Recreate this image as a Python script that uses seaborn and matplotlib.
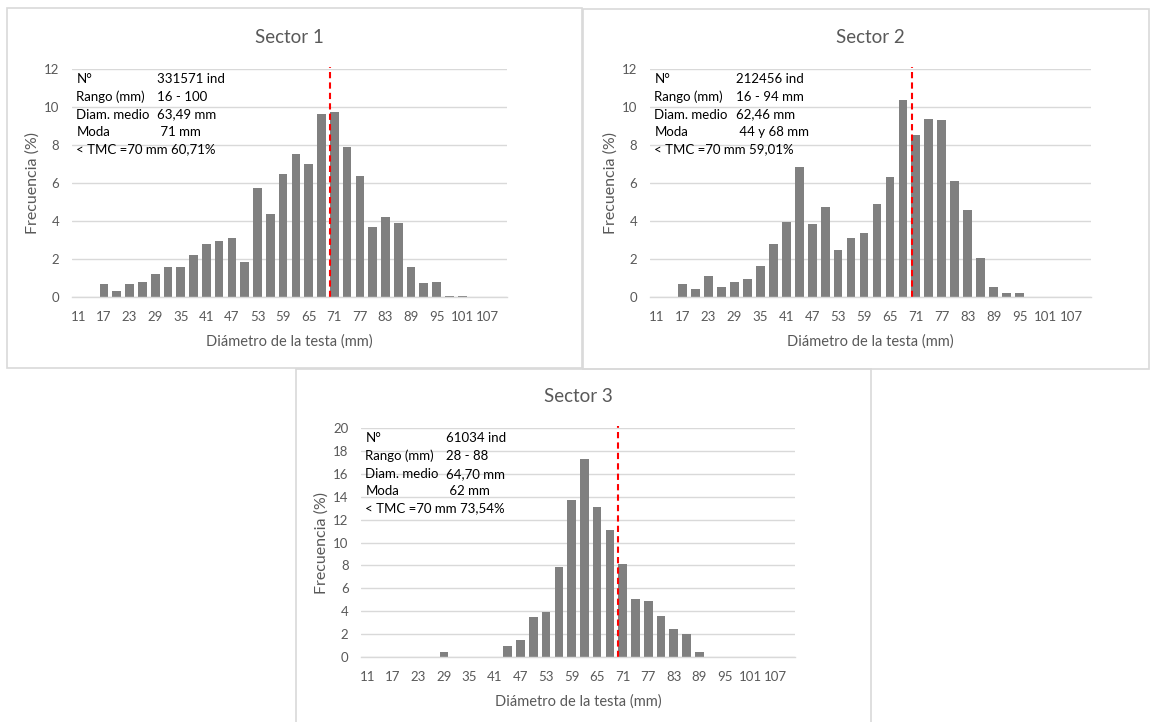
import numpy as np
import pandas as pd
import matplotlib
matplotlib.use("Agg")
import matplotlib.pyplot as plt
from matplotlib.patches import Rectangle
import seaborn as sns

# clases de diametro (mm)
diametros = [11, 14, 17, 20, 23, 26, 29, 32, 35, 38, 41, 44, 47, 50, 53, 56, 59,
             62, 65, 68, 71, 74, 77, 80, 83, 86, 89, 92, 95, 98, 101, 104, 107, 110]

# frecuencias (%)
sector1 = [0, 0, 0.68, 0.31, 0.68, 0.77, 1.2, 1.59, 1.59, 2.2, 2.81, 2.93, 3.09, 1.83,
           5.74, 4.35, 6.47, 7.55, 7.02, 9.65, 9.72, 7.92, 6.37, 3.66, 4.22, 3.9,
           1.6, 0.75, 0.79, 0.05, 0.05, 0, 0, 0]
sector2 = [0, 0, 0.67, 0.42, 1.1, 0.51, 0.79, 0.96, 1.65, 2.8, 3.96, 6.86, 3.82, 4.75,
           2.45, 3.1, 3.38, 4.89, 6.3, 10.38, 8.51, 9.37, 9.33, 6.09, 4.6, 2.05,
           0.53, 0.23, 0.23, 0, 0, 0, 0, 0]
sector3 = [0, 0, 0, 0, 0, 0, 0.44, 0, 0, 0, 0, 0.93, 1.51, 3.46, 3.96, 7.89, 13.74,
           17.32, 13.13, 11.06, 8.09, 5.07, 4.89, 3.58, 2.47, 1.98, 0.44, 0, 0, 0,
           0, 0, 0, 0]

titulos = ["Sector 1", "Sector 2", "Sector 3"]
ymax = [12, 12, 20]
tmc = 70  # talla minima de captura (mm)

info_labels = ["N°", "Rango (mm)", "Diam. medio", "Moda"]
info_s1 = ["331571 ind", "16 - 100", "63,49 mm", " 71 mm", "< TMC =70 mm 60,71%"]
info_s2 = ["212456 ind", "16 - 94 mm", "62,46 mm", " 44 y 68 mm", "< TMC =70 mm 59,01%"]
info_s3 = ["61034 ind", "28 - 88", "64,70 mm", " 62 mm", "< TMC =70 mm 73,54%"]

sns.set_style("white")
plt.rcParams['font.family'] = ['Lato', 'DejaVu Sans']

W, H = 1150, 722
GRAY_TXT = '#595959'
GRID = '#d9d9d9'

fig = plt.figure(figsize=(W / 100, H / 100), dpi=100)


def px_rect(x0, y0, x1, y1):
    return [x0 / W, 1 - y1 / H, (x1 - x0) / W, (y1 - y0) / H]


# marcos de cada grafico
for (x0, y0, x1, y1) in [(7, 8, 582, 368), (583, 9, 1149, 369), (296, 369, 871, 730)]:
    fig.add_artist(Rectangle((x0 / W, 1 - y1 / H), (x1 - x0) / W, (y1 - y0) / H,
                             transform=fig.transFigure, fill=False,
                             edgecolor='#d9d9d9', linewidth=1.2))

rects = [(72, 69, 507, 297), (650, 69, 1091, 297), (361, 428, 795, 657)]
datos = [sector1, sector2, sector3]
infos = [info_s1, info_s2, info_s3]

labels = [str(d) for d in diametros]
for rect, vals, titulo, ym, info in zip(rects, datos, titulos, ymax, infos):
    ax = fig.add_axes(px_rect(*rect))
    df = pd.DataFrame({'Diametro': labels, 'Frecuencia': vals})
    sns.barplot(data=df, x='Diametro', y='Frecuencia', order=labels,
                color='#808080', saturation=1, width=0.68, linewidth=0, ax=ax)

    ax.set_xlim(-0.5, len(labels) - 0.5)
    ax.set_ylim(0, ym)
    ax.set_yticks(np.arange(0, ym + 1, 2))
    pos = np.arange(len(labels))
    ax.set_xticks(pos[::2], labels=labels[::2])
    ax.tick_params(axis='both', length=0, colors=GRAY_TXT, labelsize=9.5)
    ax.tick_params(axis='x', pad=10)
    ax.tick_params(axis='y', pad=9)

    ax.grid(axis='y', color=GRID, linewidth=1)
    ax.set_axisbelow(True)
    for s in ['left', 'right', 'top']:
        ax.spines[s].set_visible(False)
    ax.spines['bottom'].set_color(GRID)
    ax.spines['bottom'].set_linewidth(1)

    ax.set_title(titulo, fontsize=13.5, color=GRAY_TXT, pad=19)
    ax.set_xlabel('Diámetro de la testa (mm)', fontsize=10.5, color=GRAY_TXT, labelpad=8)
    ax.set_ylabel('Frecuencia (%)', fontsize=11.5, color=GRAY_TXT, labelpad=3)

    # linea TMC
    x_tmc = np.interp(tmc, diametros, pos)
    ax.axvline(x_tmc, ymin=0, ymax=1.01, color='#ff0000', linestyle=(0, (3, 2)),
               linewidth=1.5, clip_on=False)

    # cuadro de texto
    ys = [0.956, 0.877, 0.800, 0.724, 0.649]
    for i, lab in enumerate(info_labels):
        ax.text(0.01, ys[i], lab, transform=ax.transAxes, fontsize=9.5,
                color='black', va='center')
        ax.text(0.195, ys[i], info[i], transform=ax.transAxes, fontsize=9.5,
                color='black', va='center')
    ax.text(0.01, ys[4], info[4], transform=ax.transAxes, fontsize=9.5,
            color='black', va='center')

fig.savefig('out.png', dpi=100)
